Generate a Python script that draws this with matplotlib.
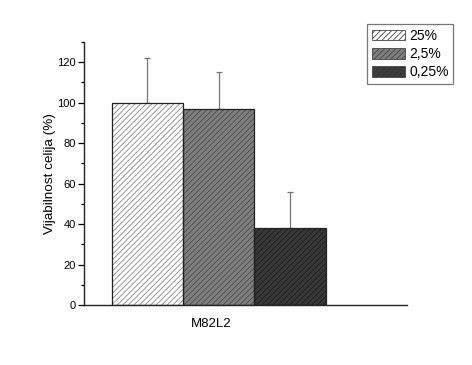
import matplotlib
matplotlib.use("Agg")
import matplotlib.pyplot as plt
from matplotlib.patches import Patch

plt.rcParams['font.family'] = ['Liberation Sans', 'DejaVu Sans']
plt.rcParams['hatch.linewidth'] = 0.6

category = "M82L2"
series = ["25%", "2,5%", "0,25%"]
values = [100, 97, 38]
errors = [22, 18, 18]

faces = ["#ffffff", "#7f7f7f", "#383838"]
hatch_cols = ["#8a8a8a", "#4a4a4a", "#1e1e1e"]

fig = plt.figure(figsize=(4.72, 3.65), dpi=100)
ax = fig.add_axes([0.178, 0.164, 0.684, 0.721])

x0 = 0.89
xs = [x0 + i for i in range(len(values))]
# hatch layer
ax.bar(xs, values, width=1.0, color=faces, edgecolor=hatch_cols, hatch="//////", linewidth=0, zorder=2)
# outline layer
ax.bar(xs, values, width=1.0, fill=False, edgecolor="#222222", linewidth=0.9, zorder=3)
ax.errorbar(xs, values, yerr=[[0]*3, errors], fmt="none", ecolor="#777777",
            elinewidth=0.9, capsize=2.5, capthick=0.9, zorder=1)

ax.set_xlim(0, 4.53)
ax.set_ylim(0, 130)
ax.set_yticks(range(0, 121, 20))
ax.set_yticks(range(10, 131, 20), minor=True)
ax.set_xticks([1.78])
ax.set_xticklabels([category])
ax.tick_params(axis='x', length=0, pad=9, labelsize=9.5)
ax.tick_params(axis='y', which='major', length=4, width=0.9, labelsize=8, direction='out', pad=2)
ax.tick_params(axis='y', which='minor', length=2.5, width=0.9, direction='out')
for s in ["top", "right"]:
    ax.spines[s].set_visible(False)
for s in ["left", "bottom"]:
    ax.spines[s].set_linewidth(1.0)
    ax.spines[s].set_color("#222222")
ax.set_ylabel("Vijabilnost celija (%)", fontsize=9.7, labelpad=1)

handles = [Patch(facecolor=faces[i], edgecolor="#444444", hatch="//////", linewidth=0.6) for i in range(3)]
leg = fig.legend(handles, series, loc="upper left", bbox_to_anchor=(0.777, 0.934),
                 fontsize=10, frameon=True, fancybox=False, handlelength=2.4, handleheight=0.8,
                 handletextpad=0.3, borderpad=0.35, labelspacing=0.3, borderaxespad=0)
leg.get_frame().set_edgecolor("#555555")
leg.get_frame().set_linewidth(0.9)

fig.savefig("out.png", dpi=100)
